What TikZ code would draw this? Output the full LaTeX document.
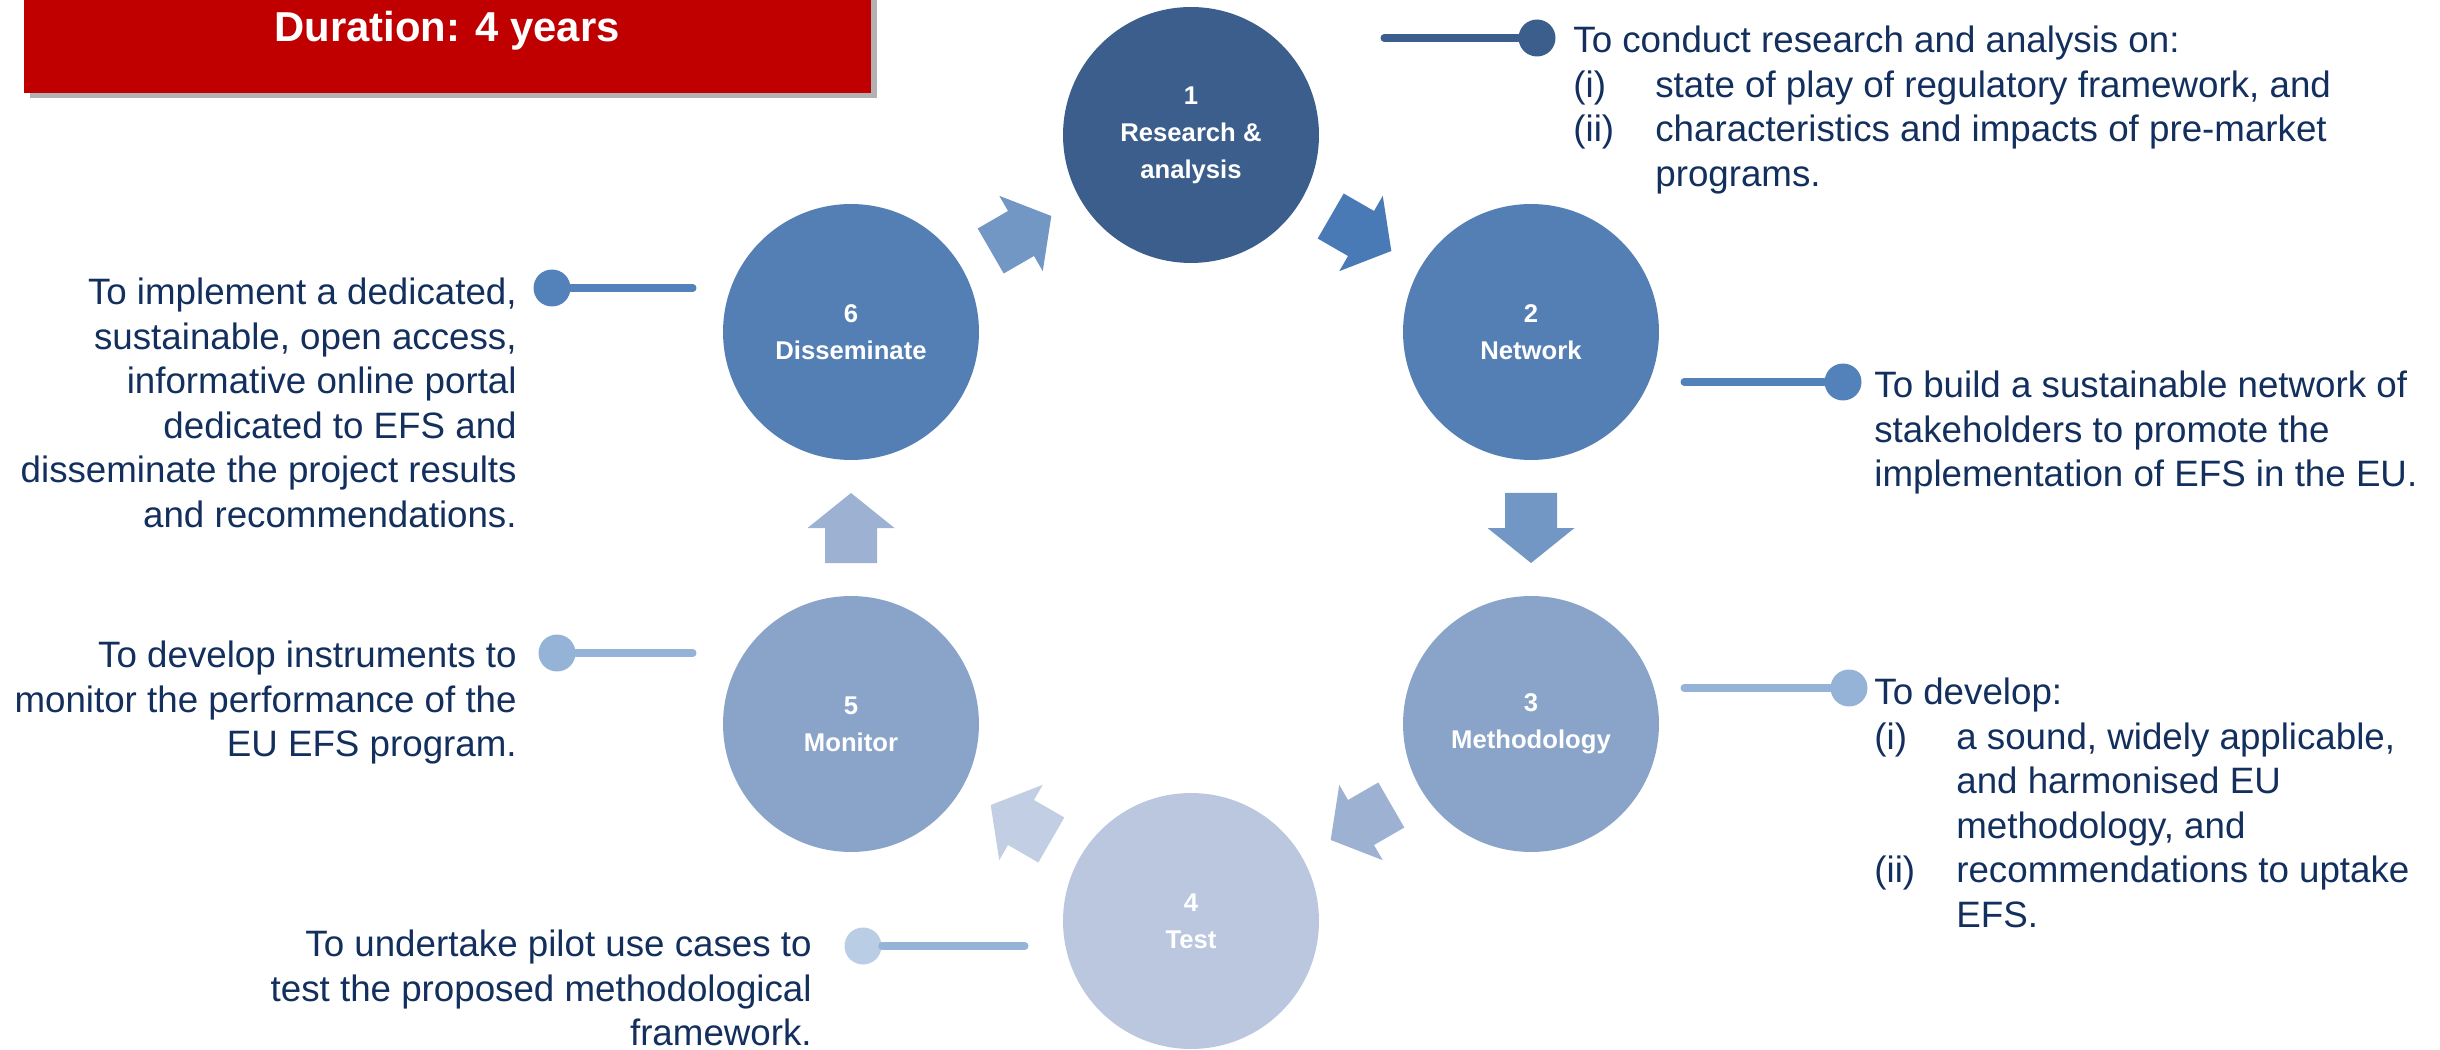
\documentclass[tikz,border=0pt]{standalone}
\usepackage{fontspec}
\setmainfont{Liberation Sans}
\usetikzlibrary{calc}

\definecolor{navy}{HTML}{132F5E}
\definecolor{stA}{HTML}{3B5E8C}
\definecolor{stB}{HTML}{547FB5}
\definecolor{stC}{HTML}{8AA4C9}
\definecolor{stD}{HTML}{BAC7DF}
\definecolor{arA}{HTML}{4A7AB5}
\definecolor{arB}{HTML}{7397C4}
\definecolor{arC}{HTML}{9DB2D3}
\definecolor{arD}{HTML}{C1CEE3}
\definecolor{lnB}{HTML}{5381BA}
\definecolor{lnC}{HTML}{95B3D7}
\definecolor{dotD}{HTML}{B9CDE5}
\definecolor{dred}{HTML}{C00000}

\newcommand{\rlab}[1]{\makebox[1.64cm][l]{#1}}

\tikzset{
  stage/.style={circle, minimum size=5.12cm, inner sep=0pt, text=white, align=center,
    font=\fontsize{14.6}{21}\selectfont\bfseries},
  desc/.style={inner sep=0pt, text=navy, font=\fontsize{20.9}{25.3}\selectfont},
  lead/.style={line width=4pt, line cap=round},
  bead/.style={circle, minimum size=0.74cm, inner sep=0pt},
}

\begin{document}
\begin{tikzpicture}[x=0.02cm, y=-0.02cm]
\useasboundingbox (0,0) rectangle (2440,1050);

% title bar
\fill[black!30] (30,-20) rectangle (877,98);
\fill[dred] (24,-20) rectangle (871,93);
\node[anchor=base, text=white, font=\fontsize{23.8}{28}\selectfont\bfseries] (dur) at (447,42) {Duration: 4 years};

% stages
\node[stage, fill=stA] (R) at (1191,135) {1\\Research \&\\analysis};
\node[stage, fill=stB] (N) at (1531,332) {2\\Network};
\node[stage, fill=stC] (M) at (1531,724) {3\\Methodology};
\node[stage, fill=stD] (T) at (1191,921) {4\\Test};
\node[stage, fill=stC] (Mo) at (851,724) {5\\Monitor};
\node[stage, fill=stB] (D) at (851,332) {6\\Disseminate};

% block arrows between stages
\foreach \a/\b/\ang/\col in {R/N/-30/arA, N/M/-90/arB, M/T/-150/arC, T/Mo/150/arD, Mo/D/90/arC, D/R/30/arB}
  \fill[\col, shift={($(\a)!0.5!(\b)$)}, rotate=\ang]
    (-35,-26) -- (0,-26) -- (0,-43.5) -- (35,0) -- (0,43.5) -- (0,26) -- (-35,26) -- cycle;

% leaders
\node[bead, fill=stA] (b1) at (1537,38) {};
\node[bead, fill=lnB] (b2) at (1843,382) {};
\node[bead, fill=lnC] (b3) at (1849,688) {};
\node[bead, fill=dotD] (b4) at (863,946) {};
\node[bead, fill=lnC] (b5) at (557,653) {};
\node[bead, fill=lnB] (b6) at (552,288) {};
\coordinate (l1) at (1384,38);
\coordinate (l2) at (1684,382);
\coordinate (l3) at (1684,688);
\coordinate (l4) at (1025,946);
\coordinate (l5) at (693,653);
\coordinate (l6) at (693,288);
\draw[lead, stA] (l1) -- (b1);
\draw[lead, lnB] (l2) -- (b2);
\draw[lead, lnC] (l3) -- (b3);
\draw[lead, lnC] (l4) -- (b4);
\draw[lead, lnC] (l5) -- (b5);
\draw[lead, lnB] (l6) -- (b6);

% aims
\node[desc, anchor=north west, align=left] (t1) at (1573,26)
  {To conduct research and analysis on:\\\rlab{(i)}state of play of regulatory framework, and\\\rlab{(ii)}characteristics and impacts of pre-market\\\hspace*{1.64cm}programs.};
\node[desc, anchor=north west, align=left] (t2) at (1874,371)
  {To build a sustainable network of\\stakeholders to promote the\\implementation of EFS in the EU.};
\node[desc, anchor=north west, align=left] (t3) at (1874,678)
  {To develop:\\\rlab{(i)}a sound, widely applicable,\\\hspace*{1.64cm}and harmonised EU\\\hspace*{1.64cm}methodology, and\\\rlab{(ii)}recommendations to uptake\\\hspace*{1.64cm}EFS.};
\node[desc, anchor=north east, align=right] (t4) at (812,930)
  {To undertake pilot use cases to\\test the proposed methodological\\framework.};
\node[desc, anchor=north east, align=right] (t5) at (517,641)
  {To develop instruments to\\monitor the performance of the\\EU EFS program.};
\node[desc, anchor=north east, align=right] (t6) at (517,278)
  {To implement a dedicated,\\sustainable, open access,\\informative online portal\\dedicated to EFS and\\disseminate the project results\\and recommendations.};
\end{tikzpicture}
\end{document}
